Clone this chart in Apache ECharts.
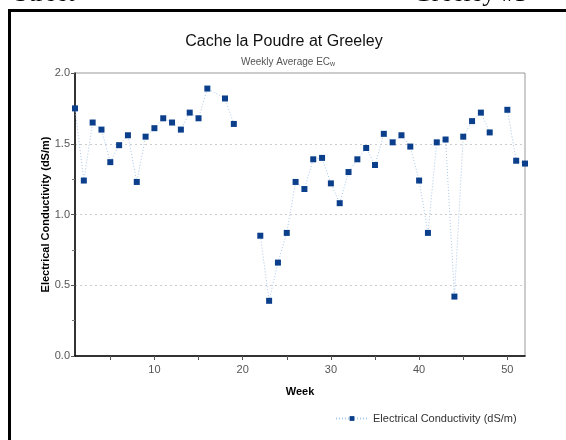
<!DOCTYPE html>
<html><head><meta charset="utf-8">
<script src="https://cdn.jsdelivr.net/npm/echarts@6/dist/echarts.min.js"></script>
<style>html,body{margin:0;padding:0;background:#fff}#c{width:566px;height:440px}</style>
</head><body><div id="c"></div>
<script>
// Weeks and weekly average EC (dS/m); null breaks the line
const weeks = [1,2,3,4,5,6,7,8,9,10,11,12,13,14,15,16,18,19,20,22,23,24,25,26,27,28,29,30,31,32,33,34,35,36,37,38,39,40,41,42,43,44,45,46,47,48,49,50,51,52];
const ecValues = [1.75,1.24,1.65,1.60,1.37,1.49,1.56,1.23,1.55,1.61,1.68,1.65,1.60,1.72,1.68,1.89,1.82,1.64,null,0.85,0.39,0.66,0.87,1.23,1.18,1.39,1.40,1.22,1.08,1.30,1.39,1.47,1.35,1.57,1.51,1.56,1.48,1.24,0.87,1.51,1.53,0.42,1.55,1.66,1.72,1.58,null,1.74,1.38,1.36];
const xTickLabels = [10,20,30,40,50];
const xTicks = [5,10,15,20,25,30,35,40,45,50];
const yTicks = [0,0.5,1.0,1.5,2.0];

const data = weeks.map((w,i)=>[w, ecValues[i] === null ? '-' : ecValues[i]]);
const chart = echarts.init(document.getElementById('c'), null, {renderer:'canvas'});
const FONT = 'Liberation Sans, Arial, sans-serif';
chart.setOption({
  animation:false,
  backgroundColor:'#fff',
  title:[
    {text:'Cache la Poudre at Greeley', left:279, top:29, textAlign:'center',
     textStyle:{fontFamily:FONT, fontSize:16, fontWeight:'normal', color:'#111'}},
    {text:'{a|Weekly Average EC}{b|w}', left:283, top:51, textAlign:'center',
     textStyle:{fontWeight:'normal', rich:{a:{fontFamily:FONT, fontSize:10, fontWeight:'normal', color:'#555'}, b:{fontFamily:FONT, fontSize:7, fontWeight:'normal', color:'#555', padding:[5,0,0,0]}}}}
  ],
  legend:{data:['Electrical Conductivity (dS/m)'], left:330, top:408, itemWidth:32, itemHeight:6,
    textStyle:{fontFamily:FONT, fontSize:11, color:'#333'}},
  grid:{left:75, right:41, top:73, bottom:84, show:true, borderColor:'#999', borderWidth:1},
  xAxis:{type:'value', min:1, max:52, name:'Week', nameLocation:'middle', nameGap:30,
    nameTextStyle:{fontFamily:FONT, fontSize:11, fontWeight:'bold', color:'#000'},
    axisLine:{lineStyle:{color:'#000', width:1.5}},
    axisTick:{customValues:xTicks, length:4, lineStyle:{color:'#555'}},
    axisLabel:{customValues:xTickLabels, fontFamily:FONT, fontSize:11, color:'#555', margin:8},
    splitLine:{show:false}},
  yAxis:{type:'value', min:0, max:2, interval:0.5, name:'Electrical Conductivity (dS/m)', nameLocation:'middle', nameGap:24, nameMoveOverlap:false,
    nameTextStyle:{fontFamily:FONT, fontSize:11, fontWeight:'bold', color:'#000'},
    axisLine:{show:true, lineStyle:{color:'#000', width:1.5}},
    axisTick:{show:true, length:4, lineStyle:{color:'#555'}},
    minorTick:{show:true, splitNumber:2, length:3, lineStyle:{color:'#777'}},
    axisLabel:{fontFamily:FONT, fontSize:11, color:'#555', margin:5, formatter:v=>v.toFixed(1)},
    splitLine:{show:true, lineStyle:{color:'#ccc', type:[2,3], width:1}}},
  series:[{name:'Electrical Conductivity (dS/m)', type:'line', data:data, connectNulls:false,
    symbol:'rect', symbolSize:6, itemStyle:{color:'#0b3f8c'},
    lineStyle:{color:'#a8c8ea', width:1, type:[1,2]}}],
  graphic:[
    {type:'rect', shape:{x:9.5, y:10.5, width:620, height:500}, style:{fill:'none', stroke:'#000', lineWidth:3}, silent:true},
    {type:'text', x:14, y:7, style:{text:'Street', fontFamily:'Liberation Serif, Times New Roman, serif', fontSize:26, fill:'#000', verticalAlign:'bottom'}},
    {type:'text', x:413, y:7, style:{text:'Greeley #3', fontFamily:'Liberation Serif, Times New Roman, serif', fontSize:26, fill:'#000', verticalAlign:'bottom'}}
  ]
});
</script></body></html>
